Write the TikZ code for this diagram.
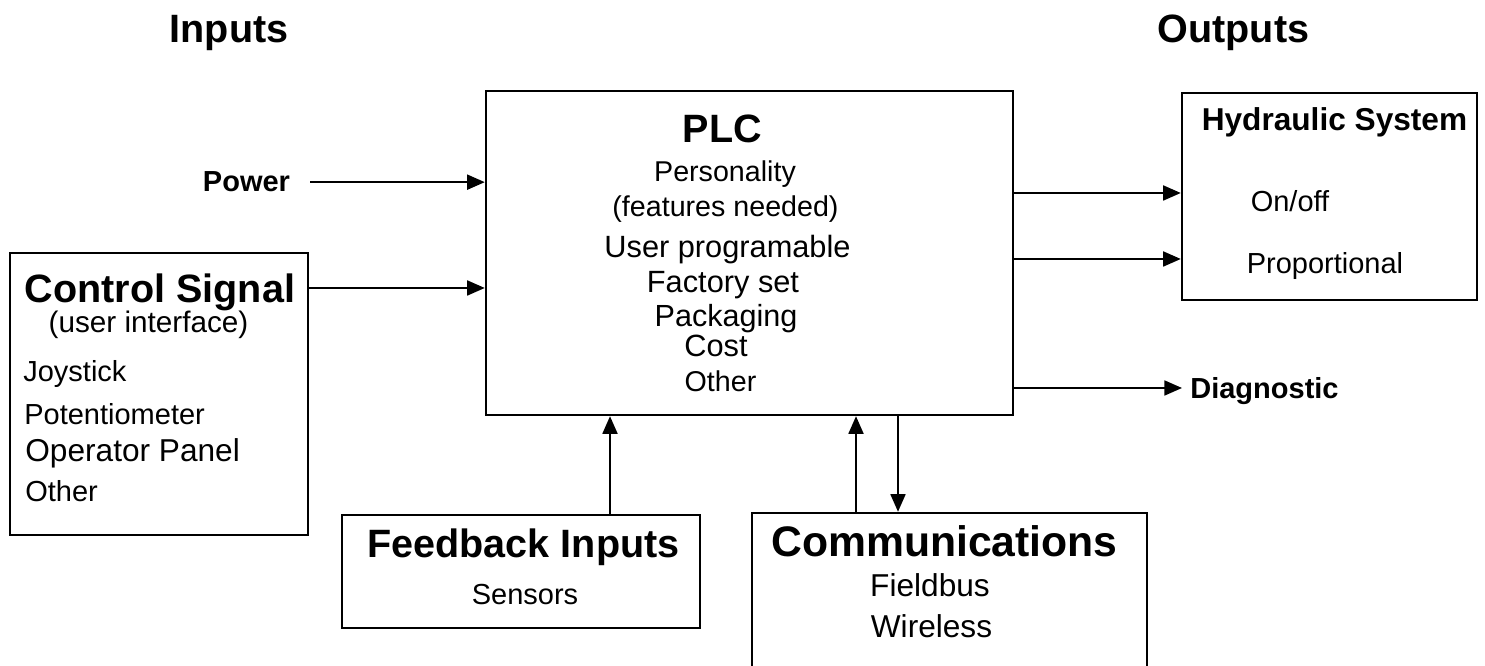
\documentclass[tikz,border=0pt]{standalone}
\usepackage{fontspec}
\setmainfont{Liberation Sans}
\usepackage{tikz}
\usetikzlibrary{arrows.meta,positioning,calc}
\tikzset{
  box/.style={rectangle,draw=black,line width=1.4pt,fill=white},
  arr/.style={-{Triangle[length=10pt,width=8.5pt]},line width=1.1pt},
  head/.style={font=\fontsize{#1}{27}\selectfont\bfseries,inner sep=0pt},
  head/.default=22.5,
  sub/.style={font=\fontsize{16.5}{20}\selectfont\bfseries,inner sep=0pt},
  hsys/.style={font=\fontsize{18}{22}\selectfont\bfseries,inner sep=0pt},
  txt/.style={font=\fontsize{#1}{20}\selectfont,inner sep=0pt},
  txt/.default=16.5
}
\begin{document}
\begin{tikzpicture}
    \useasboundingbox (0,0) rectangle (29.7,13.32);

    % Headings
    \node[head,anchor=base] (inputs) at (4.58,12.46) {Inputs};
    \node[head,anchor=base] (outputs) at (24.67,12.46) {Outputs};

    % PLC
    \node[box,minimum width=10.54cm,minimum height=6.48cm] (plc) at (14.99,8.26) {};
    \node[head,anchor=base] (plctitle) at (14.45,10.46) {PLC};
    \node[txt=16.3,anchor=base] (pers) at (14.50,9.68) {Personality};
    \node[txt=16.3,anchor=base] (feat) at (14.51,8.98) {(features needed)};
    \node[txt=17.5,anchor=base] (userprog) at (14.55,8.16) {User programable};
    \node[txt=17.5,anchor=base] (factory) at (14.46,7.46) {Factory set};
    \node[txt=17.4,anchor=base] (pack) at (14.52,6.78) {Packaging};
    \node[txt=17.5,anchor=base] (cost) at (14.32,6.18) {Cost};
    \node[txt=16.3,anchor=base] (plcother) at (14.41,5.48) {Other};

    % Power
    \node[sub,anchor=base] (power) at (4.93,9.48) {Power};

    % Control signal
    \node[box,minimum width=5.96cm,minimum height=5.64cm] (csig) at (3.18,5.44) {};
    \node[head,anchor=base] (csigtitle) at (3.20,7.26) {Control Signal};
    \node[txt=16.9,anchor=base] (uif) at (2.97,6.66) {(user interface)};
    \node[txt,anchor=base west] (joy) at (0.46,5.68) {Joystick};
    \node[txt,anchor=base west] (pot) at (0.48,4.82) {Potentiometer};
    \node[txt=18,anchor=base west] (panel) at (0.50,4.08) {Operator Panel};
    \node[txt,anchor=base west] (csother) at (0.50,3.28) {Other};

    % Hydraulic system
    \node[box,minimum width=5.9cm,minimum height=4.14cm] (hyd) at (26.59,9.39) {};
    \node[hsys,anchor=base] (hydtitle) at (26.69,10.70) {Hydraulic System};
    \node[txt,anchor=base] (onoff) at (25.80,9.08) {On/off};
    \node[txt,anchor=base] (prop) at (26.50,7.84) {Proportional};

    % Diagnostic
    \node[sub,anchor=base west] (diag) at (23.80,5.34) {Diagnostic};
    \coordinate (diagtip) at (23.64,5.56);

    % Feedback inputs
    \node[box,minimum width=7.16cm,minimum height=2.26cm] (fb) at (10.42,1.89) {};
    \node[head,anchor=base] (fbtitle) at (10.47,2.16) {Feedback Inputs};
    \node[txt,anchor=base] (sens) at (10.50,1.22) {Sensors};

    % Communications
    \node[box,minimum width=7.9cm,minimum height=3.34cm] (comm) at (18.99,1.39) {};
    \node[head=24.3,anchor=base] (commtitle) at (18.89,2.18) {Communications};
    \node[txt=18,anchor=base] (fbus) at (18.60,1.38) {Fieldbus};
    \node[txt=18,anchor=base] (wless) at (18.63,0.56) {Wireless};

    % Arrows
    \draw[arr] ($(power.east)+(0.4,0)$) -- (power.east -| plc.west);
    \draw[arr] ([yshift=2.12cm]csig.east) -- ([yshift=2.12cm]csig.east -| plc.west);
    \draw[arr] ([yshift=1.2cm]plc.east) -- ([yshift=1.2cm]plc.east -| hyd.west);
    \draw[arr] ([yshift=-0.12cm]plc.east) -- ([yshift=-0.12cm]plc.east -| hyd.west);
    \draw[arr] (diagtip -| plc.east) -- (diagtip);
    \draw[arr] ([xshift=1.78cm]fb.north) -- ([xshift=1.78cm]fb.north |- plc.south);
    \draw[arr] ([xshift=-1.87cm]comm.north) -- ([xshift=-1.87cm]comm.north |- plc.south);
    \draw[arr] ([xshift=-1.03cm]comm.north |- plc.south) -- ([xshift=-1.03cm]comm.north);
  \end{tikzpicture}
\end{document}
